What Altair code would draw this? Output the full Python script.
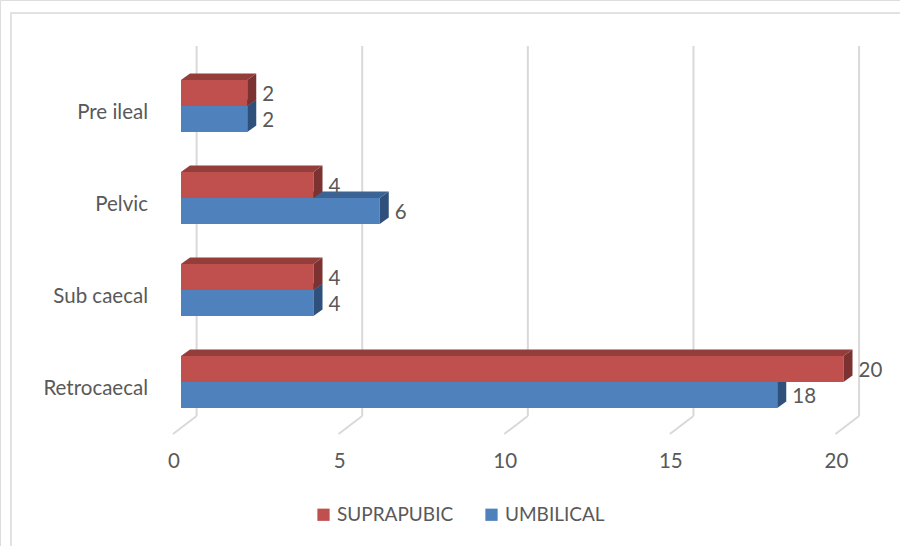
import altair as alt
import pandas as pd

# ---- data -------------------------------------------------------------
categories = ["Pre ileal", "Pelvic", "Sub caecal", "Retrocaecal"]
suprapubic = [2, 4, 4, 20]
umbilical = [2, 6, 4, 18]
series_names = ["SUPRAPUBIC", "UMBILICAL"]
x_ticks = [0, 5, 10, 15, 20]

# ---- geometry / style -------------------------------------------------
W, H = 900, 546
X_RANGE = [181, 843.5]          # pixel span of the value axis 0..20
Y_RANGE = [106, 382]            # pixel span of the category rows 0..3
PX_PER_UNIT = (X_RANGE[1] - X_RANGE[0]) / 20
PX_PER_ROW = (Y_RANGE[1] - Y_RANGE[0]) / 3
BAR_H = 26 / PX_PER_ROW         # bar thickness in row units
DEPTH_X = 9 / PX_PER_UNIT       # 3-D depth, horizontal part
DEPTH_Y = 6.5 / PX_PER_ROW      # 3-D depth, vertical part

FONT = "Lato"
FS = 20.5
TEXT = "#595959"
GRID = "#D9D9D9"
FRONT = {"SUPRAPUBIC": "#C0504D", "UMBILICAL": "#4F81BD"}
TOP = {"SUPRAPUBIC": "#943E3B", "UMBILICAL": "#3B6494"}
SIDE = {"SUPRAPUBIC": "#7C3230", "UMBILICAL": "#2F507A"}

# ---- build tables -----------------------------------------------------
fronts, tops, sides = [], [], []
for i, cat in enumerate(categories):
    for s, vals in zip(series_names, [suprapubic, umbilical]):
        v = vals[i]
        top = i - BAR_H if s == "SUPRAPUBIC" else i
        bot = top + BAR_H
        key = f"{cat}|{s}"
        fronts.append(dict(cat=cat, series=s, value=v, base=0, top=top,
                           bot=bot, mid=(top + bot) / 2, row=i))
        tops.append(dict(key=key, series=s, y=top, xa=0, xb=v))
        tops.append(dict(key=key, series=s, y=top - DEPTH_Y,
                         xa=DEPTH_X, xb=v + DEPTH_X))
        sides.append(dict(key=key, series=s, x=v, ya=top, yb=bot))
        sides.append(dict(key=key, series=s, x=v + DEPTH_X,
                          ya=top - DEPTH_Y, yb=bot - DEPTH_Y))

front_df = pd.DataFrame(fronts)
top_df = pd.DataFrame(tops)
side_df = pd.DataFrame(sides)
tick_df = pd.DataFrame({"tick": x_ticks})
cat_df = pd.DataFrame({"cat": categories, "row": range(len(categories))})

xs = alt.Scale(domain=[0, 20], range=X_RANGE, zero=False, nice=False)
ys = alt.Scale(domain=[0, 3], range=Y_RANGE, zero=False, nice=False)
col_scale = alt.Scale(domain=series_names,
                      range=[FRONT[s] for s in series_names])

# ---- frame, gridlines and floor --------------------------------------
frame = alt.Chart(pd.DataFrame({"a": [0]})).mark_rect(
    fill=None, stroke=GRID, strokeWidth=1.5
).encode(x=alt.value(11), x2=alt.value(W + 10),
         y=alt.value(13), y2=alt.value(H + 10))

grid = alt.Chart(tick_df).mark_rule(
    color=GRID, strokeWidth=2, xOffset=15.6
).encode(x=alt.X("tick:Q", scale=xs, axis=None),
         y=alt.value(46), y2=alt.value(416))

floor = alt.Chart(tick_df).mark_rule(
    color=GRID, strokeWidth=2, xOffset=15.6, x2Offset=-8
).encode(x=alt.X("tick:Q", scale=xs, axis=None), x2="tick:Q",
         y=alt.value(416), y2=alt.value(434))

tick_text = alt.Chart(tick_df).mark_text(
    font=FONT, fontSize=FS, color=TEXT, align="center",
    baseline="middle", xOffset=-7
).encode(x=alt.X("tick:Q", scale=xs, axis=None),
         y=alt.value(462), text="tick:Q")

cat_text = alt.Chart(cat_df).mark_text(
    font=FONT, fontSize=FS, color=TEXT, align="right",
    baseline="middle", yOffset=7
).encode(x=alt.value(148),
         y=alt.Y("row:Q", scale=ys, axis=None), text="cat:N")


# ---- 3-D bars ---------------------------------------------------------
def bar_layers(s):
    f = alt.Chart(front_df[front_df.series == s]).mark_rect().encode(
        x=alt.X("base:Q", scale=xs, axis=None), x2="value:Q",
        y=alt.Y("top:Q", scale=ys, axis=None), y2="bot:Q",
        color=alt.Color("series:N", scale=col_scale, title=None,
                        legend=alt.Legend(
                            orient="none", direction="horizontal",
                            legendX=314, legendY=505,
                            symbolType="square", symbolSize=150,
                            symbolStrokeWidth=0, labelFont=FONT,
                            labelFontSize=19, labelColor=TEXT,
                            labelOffset=4, columnPadding=28,
                            padding=0)))
    t = alt.Chart(top_df[top_df.series == s]).mark_area(
        orient="horizontal", color=TOP[s]
    ).encode(y=alt.Y("y:Q", scale=ys, axis=None),
             x=alt.X("xa:Q", scale=xs, axis=None), x2="xb:Q",
             detail="key:N")
    sd = alt.Chart(side_df[side_df.series == s]).mark_area(
        orient="vertical", color=SIDE[s]
    ).encode(x=alt.X("x:Q", scale=xs, axis=None),
             y=alt.Y("ya:Q", scale=ys, axis=None), y2="yb:Q",
             detail="key:N")
    return [f, t, sd]


labels = alt.Chart(front_df).mark_text(
    font=FONT, fontSize=FS, color=TEXT, align="left",
    baseline="middle", dx=15, dy=2
).encode(x=alt.X("value:Q", scale=xs, axis=None),
         y=alt.Y("mid:Q", scale=ys, axis=None), text="value:Q")

chart = alt.layer(
    frame, grid, floor, tick_text, cat_text,
    *bar_layers("UMBILICAL"), *bar_layers("SUPRAPUBIC"),
    labels
).properties(
    width=W, height=H, padding=0,
    autosize=alt.AutoSizeParams(type="none"),
).configure_view(stroke=None).configure(background="white")

chart.save("out.html", embed_options={"renderer": "svg", "actions": False})
